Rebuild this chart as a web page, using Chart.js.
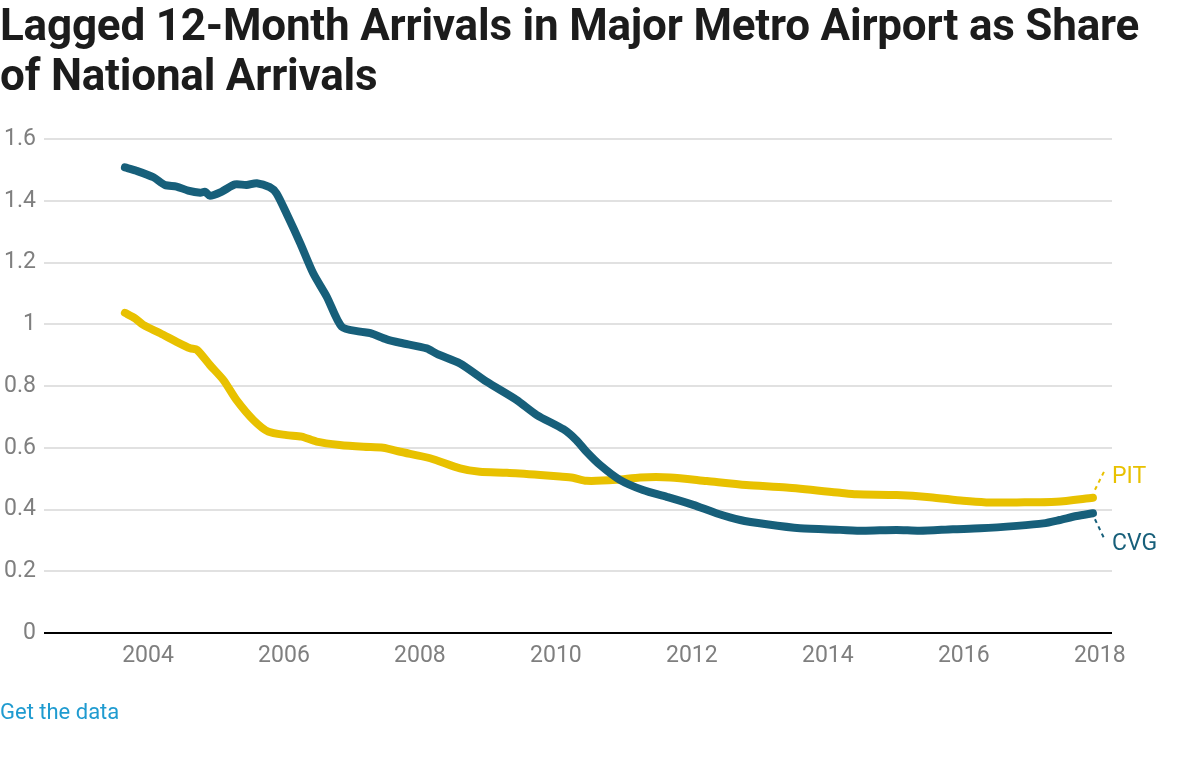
<!DOCTYPE html>
<html>
<head>
<meta charset="utf-8">
<script src="https://cdn.jsdelivr.net/npm/chart.js@4/dist/chart.umd.min.js"></script>
<style>
  html, body { margin: 0; padding: 0; background: #fff; }
  body { width: 1180px; height: 780px; position: relative; overflow: hidden; font-family: Roboto, "Noto Sans", sans-serif; }
  #title { position: absolute; left: 0; top: 0; margin: 0; font-family: Roboto, sans-serif; font-weight: 700; font-size: 44px; line-height: 50px; color: #1c1c1c; letter-spacing: -0.2px; width: 1180px; }
  #wrap { position: absolute; left: 0; top: 0; width: 1180px; height: 780px; }
  #link { position: absolute; left: 0; top: 699px; font-family: Roboto, sans-serif; font-size: 22px; color: #1f9bd0; text-decoration: none; }
</style>
</head>
<body>
<div id="wrap"><canvas id="c" width="1180" height="780"></canvas></div>
<h1 id="title">Lagged 12-Month Arrivals in Major Metro Airport as Share<br>of National Arrivals</h1>
<a id="link" href="#">Get the data</a>
<script>
// ---- Data ----
const cvgYears = [2003.66, 2003.83, 2004.08, 2004.25, 2004.42, 2004.59, 2004.77, 2004.84, 2004.91, 2005.08, 2005.28, 2005.45, 2005.60, 2005.79, 2005.89, 2006.06, 2006.24, 2006.43, 2006.63, 2006.85, 2007.12, 2007.27, 2007.51, 2007.71, 2008.10, 2008.25, 2008.59, 2008.98, 2009.42, 2009.72, 2010.11, 2010.30, 2010.45, 2010.65, 2010.94, 2011.28, 2011.63, 2012.02, 2012.36, 2012.71, 2013.10, 2013.59, 2014.18, 2014.52, 2015.01, 2015.35, 2015.84, 2016.24, 2016.78, 2017.17, 2017.41, 2017.66, 2017.90];
const cvgValues = [1.508, 1.497, 1.476, 1.451, 1.446, 1.433, 1.426, 1.429, 1.416, 1.429, 1.453, 1.451, 1.457, 1.444, 1.424, 1.348, 1.262, 1.165, 1.089, 0.992, 0.976, 0.971, 0.951, 0.940, 0.922, 0.904, 0.873, 0.814, 0.755, 0.706, 0.660, 0.625, 0.587, 0.544, 0.496, 0.463, 0.441, 0.415, 0.388, 0.366, 0.352, 0.339, 0.334, 0.331, 0.334, 0.331, 0.336, 0.339, 0.347, 0.355, 0.366, 0.379, 0.388];
const pitYears = [2003.66, 2003.81, 2003.93, 2004.18, 2004.42, 2004.62, 2004.72, 2004.91, 2005.11, 2005.30, 2005.55, 2005.77, 2006.04, 2006.26, 2006.48, 2006.82, 2007.17, 2007.46, 2007.71, 2008.15, 2008.59, 2008.88, 2009.28, 2009.77, 2010.06, 2010.25, 2010.45, 2010.89, 2011.24, 2011.68, 2012.22, 2012.80, 2013.39, 2014.18, 2014.42, 2015.01, 2015.50, 2015.99, 2016.33, 2016.78, 2017.36, 2017.90];
const pitValues = [1.037, 1.019, 0.998, 0.971, 0.943, 0.922, 0.917, 0.868, 0.819, 0.755, 0.690, 0.652, 0.641, 0.636, 0.620, 0.609, 0.603, 0.600, 0.587, 0.566, 0.533, 0.522, 0.519, 0.512, 0.507, 0.503, 0.493, 0.496, 0.504, 0.504, 0.492, 0.479, 0.471, 0.454, 0.449, 0.447, 0.440, 0.428, 0.423, 0.423, 0.425, 0.438];
const seriesNames = ["CVG", "PIT"];
const xTickYears = [2004, 2006, 2008, 2010, 2012, 2014, 2016, 2018];
const yTickValues = [0, 0.2, 0.4, 0.6, 0.8, 1, 1.2, 1.4, 1.6];

const CVG_COLOR = "#175f7a";
const PIT_COLOR = "#e8c100";
const TICK_COLOR = "#7f7f7f";

function pairs(xs, ys) { return xs.map((x, i) => ({ x: x, y: ys[i] })); }

const endLabels = {
  id: "endLabels",
  afterDatasetsDraw(chart) {
    const ctx = chart.ctx;
    const xs = chart.scales.x, ys = chart.scales.y;
    const specs = [
      { ds: 1, color: PIT_COLOR, y0: -8, y1: -28, ty: -21 },
      { ds: 0, color: CVG_COLOR, y0: 6, y1: 27, ty: 31 }
    ];
    ctx.save();
    specs.forEach(s => {
      const d = chart.data.datasets[s.ds].data;
      const last = d[d.length - 1];
      const px = xs.getPixelForValue(last.x);
      const py = ys.getPixelForValue(last.y);
      ctx.strokeStyle = s.color;
      ctx.lineWidth = 2;
      ctx.setLineDash([4, 4]);
      ctx.beginPath();
      ctx.moveTo(px + 2, py + s.y0);
      ctx.lineTo(px + 12, py + s.y1);
      ctx.stroke();
      ctx.setLineDash([]);
      ctx.fillStyle = s.color;
      ctx.font = "23px Roboto, sans-serif";
      ctx.textAlign = "left";
      ctx.textBaseline = "middle";
      ctx.fillText(chart.data.datasets[s.ds].label, px + 19, py + s.ty);
    });
    ctx.restore();
  }
};

new Chart(document.getElementById("c"), {
  type: "line",
  data: {
    datasets: [
      { label: seriesNames[0], data: pairs(cvgYears, cvgValues), borderColor: CVG_COLOR, borderWidth: 8, pointRadius: 0, tension: 0.25, borderCapStyle: "round", borderJoinStyle: "round", fill: false },
      { label: seriesNames[1], data: pairs(pitYears, pitValues), borderColor: PIT_COLOR, borderWidth: 8, pointRadius: 0, tension: 0.25, borderCapStyle: "round", borderJoinStyle: "round", fill: false }
    ]
  },
  options: {
    responsive: false,
    animation: false,
    devicePixelRatio: 1,
    layout: { padding: { top: 139, left: 0, right: 68, bottom: 107 } },
    plugins: { legend: { display: false }, tooltip: { enabled: false }, title: { display: false } },
    scales: {
      x: {
        type: "linear",
        min: 2002.47,
        max: 2018.18,
        afterBuildTicks: (s) => { s.ticks = xTickYears.map(v => ({ value: v })); },
        afterFit: (s) => { s.height = 40; },
        ticks: { color: TICK_COLOR, font: { family: "Roboto", size: 23 }, padding: 9, callback: (v) => String(v), maxRotation: 0, autoSkip: false },
        grid: { display: false, drawTicks: false },
        border: { display: false }
      },
      y: {
        min: 0,
        max: 1.6,
        afterBuildTicks: (s) => { s.ticks = yTickValues.map(v => ({ value: v })); },
        afterFit: (s) => { s.width = 44; },
        ticks: { color: TICK_COLOR, font: { family: "Roboto", size: 23 }, padding: 8, callback: (v) => String(Math.round(v * 10) / 10) },
        grid: {
          drawTicks: false,
          color: (c) => (c.tick && c.tick.value === 0 ? "#000000" : "#e1e1e1"),
          lineWidth: 2
        },
        border: { display: false }
      }
    }
  },
  plugins: [endLabels]
});
</script>
</body>
</html>
